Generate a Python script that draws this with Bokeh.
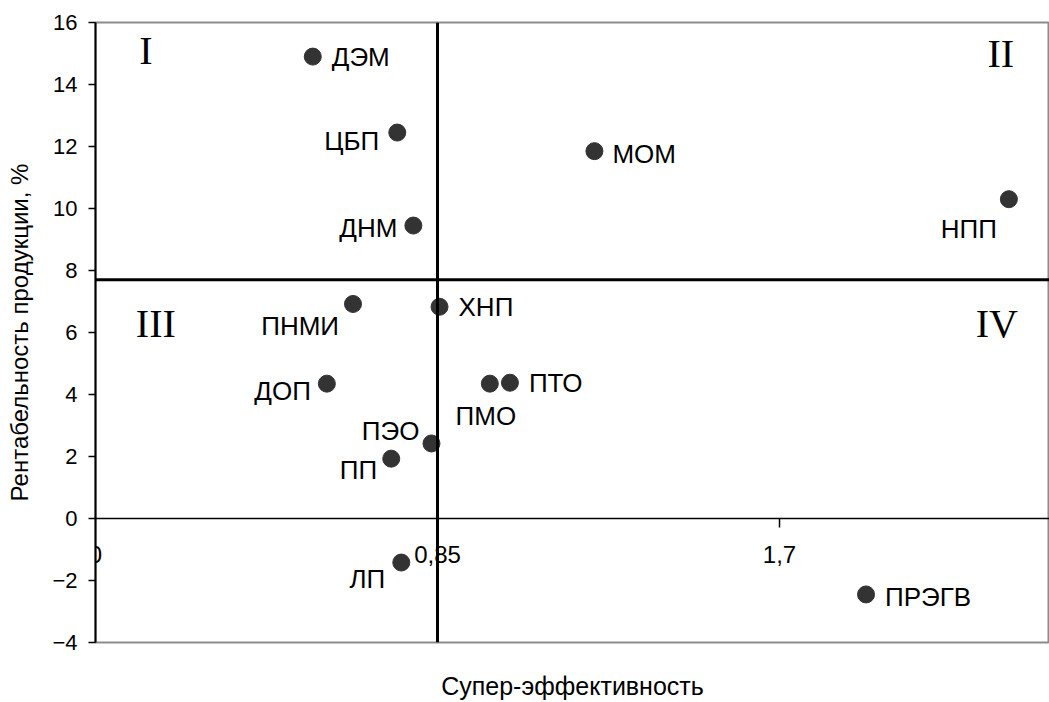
from bokeh.plotting import figure
from bokeh.models import Range1d, FixedTicker, Span, ColumnDataSource
from bokeh.core.properties import value
from bokeh.embed import file_html
from bokeh.resources import INLINE

# ---- data ----
names = ["ДЭМ", "ЦБП", "МОМ", "НПП", "ДНМ", "ПНМИ", "ХНП", "ДОП",
         "ПМО", "ПТО", "ПЭО", "ПП", "ЛП", "ПРЭГВ"]
super_eff = [0.54, 0.75, 1.24, 2.27, 0.79, 0.64, 0.855, 0.575,
             0.98, 1.03, 0.835, 0.735, 0.76, 1.915]
profitability = [14.9, 12.45, 11.85, 10.3, 9.45, 6.92, 6.83, 4.35,
                 4.35, 4.38, 2.42, 1.93, -1.42, -2.45]
x_ticks = [0, 0.85, 1.7]
x_tick_labels = ["0", "0,85", "1,7"]
y_ticks = [-4, -2, 0, 2, 4, 6, 8, 10, 12, 14, 16]
x_split = 0.85
y_split = 7.7
quadrants = ["I", "II", "III", "IV"]
quad_x = [0.125, 2.25, 0.15, 2.24]
quad_y = [15.1, 15.0, 6.3, 6.3]

# label placement (style): offsets in screen px and alignment
label_style = {
    "ДЭМ": (19, 0, "left"),
    "ЦБП": (-18, -8, "right"),
    "МОМ": (18, -3, "left"),
    "НПП": (-12, -30, "right"),
    "ДНМ": (-16, -2, "right"),
    "ПНМИ": (-14, -22, "right"),
    "ХНП": (19, 0, "left"),
    "ДОП": (-16, -7, "right"),
    "ПМО": (-4, -32, "center"),
    "ПТО": (19, 0, "left"),
    "ПЭО": (-12, 12, "right"),
    "ПП": (-14, -11, "right"),
    "ЛП": (-16, -16, "right"),
    "ПРЭГВ": (19, -3, "left"),
}

src = ColumnDataSource(dict(
    x=super_eff, y=profitability, name=names,
    xo=[label_style[n][0] for n in names],
    yo=[-label_style[n][1] for n in names],
    al=[label_style[n][2] for n in names],
))

FONT = "Liberation Sans"

p = figure(width=1049, height=702, output_backend="svg", toolbar_location=None,
           x_range=Range1d(0, 2.371), y_range=Range1d(-4, 16),
           min_border_left=95, min_border_right=0, min_border_top=22, min_border_bottom=59)
p.background_fill_color = "white"
p.border_fill_color = "white"
p.outline_line_color = "#8c8c8c"
p.outline_line_width = 2
p.xgrid.visible = False
p.ygrid.visible = False

ya = p.yaxis[0]
ya.ticker = FixedTicker(ticks=y_ticks)
ya.minor_tick_line_color = None
ya.major_tick_in = 0
ya.major_tick_out = 7
ya.axis_line_color = "black"
ya.axis_line_width = 2
ya.major_tick_line_width = 1.5
ya.major_label_standoff = 11
ya.major_label_text_font = FONT
ya.major_label_text_font_size = "22px"
ya.major_label_text_color = "black"
ya.axis_label = "Рентабельность продукции, %"
ya.axis_label_text_font = FONT
ya.axis_label_text_font_style = "normal"
ya.axis_label_text_font_size = "24px"
ya.axis_label_text_color = "black"
ya.axis_label_standoff = 16

xa = p.xaxis[0]
xa.ticker = FixedTicker(ticks=[])
xa.axis_line_color = None
xa.major_tick_line_color = None
xa.minor_tick_line_color = None
xa.axis_label = "Супер-эффективность"
xa.axis_label_text_font = FONT
xa.axis_label_text_font_style = "normal"
xa.axis_label_text_font_size = "25px"
xa.axis_label_text_color = "black"
xa.axis_label_standoff = 29

# x axis drawn at y = 0
p.add_layout(Span(location=0, dimension="width", line_color="black", line_width=1.5))
p.ray(x=x_ticks[1:], y=[0] * (len(x_ticks) - 1), length=9, length_units="screen",
      angle=-90, angle_units="deg", line_color="black", line_width=1.5)
p.text(x=x_ticks, y=[0] * len(x_ticks), text=x_tick_labels, y_offset=36,
       text_align="center", text_baseline="middle", text_font=value(FONT),
       text_font_size="24px", text_color="black")

# quadrant dividers
p.add_layout(Span(location=x_split, dimension="height", line_color="black", line_width=3))
p.add_layout(Span(location=y_split, dimension="width", line_color="black", line_width=3))

# points
p.scatter("x", "y", source=src, size=17, color="#333333", line_color="#333333")
p.text("x", "y", text="name", source=src, x_offset="xo", y_offset="yo",
       text_align="al", text_baseline="middle", text_font=value(FONT),
       text_font_size="26px", text_color="black")

# quadrant numerals
p.text(x=quad_x, y=quad_y, text=quadrants, text_align="center", text_baseline="middle",
       text_font=value("Liberation Serif"), text_font_size="40px", text_color="black")

open("out.html", "w").write(file_html(p, INLINE))
